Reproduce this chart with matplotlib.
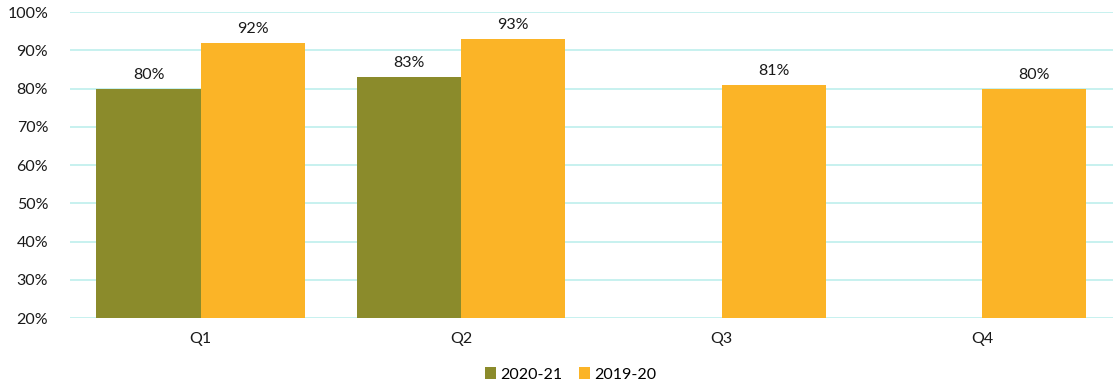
import matplotlib.pyplot as plt
import numpy as np

quarters = ['Q1', 'Q2', 'Q3', 'Q4']
y2020_21 = [80, 83, np.nan, np.nan]
y2019_20 = [92, 93, 81, 80]

plt.rcParams['font.family'] = ['Lato', 'DejaVu Sans']

fig = plt.figure(figsize=(11.17, 3.89), dpi=100)
ax = fig.add_axes([0.063, 0.1825, 0.933, 0.7865])

x = np.arange(len(quarters))
w = 0.4
green = '#8b8b2b'
orange = '#fbb427'
b1 = ax.bar(x - w / 2, y2020_21, w, color=green, label='2020-21', zorder=3)
b2 = ax.bar(x + w / 2, y2019_20, w, color=orange, label='2019-20', zorder=3)

for bars, vals in [(b1, y2020_21), (b2, y2019_20)]:
    for r, v in zip(bars, vals):
        if np.isnan(v):
            continue
        ax.text(r.get_x() + r.get_width() / 2, v + 1.8, f'{v:.0f}%',
                ha='center', va='bottom', fontsize=11.5, color='#1a1a1a')

ax.set_xlim(-0.5, len(quarters) - 0.5)
ax.set_ylim(20, 100)
ax.set_yticks(range(20, 101, 10))
ax.set_yticklabels([f'{t}%' for t in range(20, 101, 10)])
ax.set_xticks(x)
ax.set_xticklabels(quarters)
ax.tick_params(length=0, labelsize=11.5, colors='#1a1a1a')
ax.tick_params(axis='y', pad=16)
ax.tick_params(axis='x', pad=10)
ax.grid(axis='y', color='#c3f0ee', linewidth=1.3, zorder=0)
for s in ax.spines.values():
    s.set_visible(False)

ax.legend(loc='upper center', bbox_to_anchor=(0.48, -0.13), ncol=2, frameon=False,
          fontsize=11.5, handlelength=0.7, handleheight=0.7, columnspacing=1.0,
          handletextpad=0.3, borderaxespad=0.2)

fig.savefig('out.png', dpi=100)
